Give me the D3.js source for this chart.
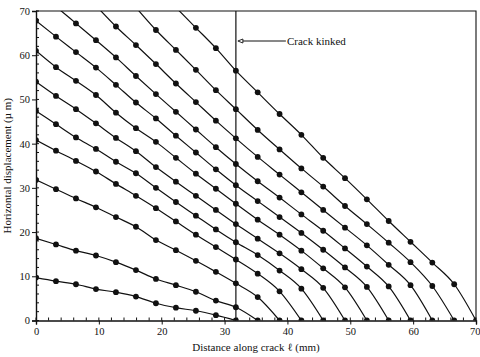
<!DOCTYPE html>
<html>
<head>
<meta charset="utf-8">
<script src="https://cdn.jsdelivr.net/npm/d3@7"></script>
<style>
  body { margin: 0; background: #fff; }
  svg { display: block; }
  text { font-family: "Liberation Serif", "DejaVu Serif", serif; fill: #111; }
</style>
</head>
<body>
<svg id="chart" width="480" height="357"></svg>
<script>
// Measurement stations along the crack path (mm); the crack kinks at 31.8 mm
const positions = [0, 3.18, 6.36, 9.54, 12.72, 15.9, 19.08, 22.26, 25.44, 28.62, 31.8,
                   35.27, 38.75, 42.22, 45.69, 49.16, 52.64, 56.11, 59.58, 63.05, 66.53, 70.0];
const kinkPosition = 31.8;

// Horizontal displacement (µm) at each station, one profile per crack-tip position
const profile01 = [9.7, 8.9, 8.2, 7.1, 6.4, 5.4, 3.9, 2.9, 2.2, 1.2, 0];
const profile02 = [18.6, 17.2, 15.8, 14.7, 13.2, 11.4, 9.4, 8.0, 6.5, 4.5, 3.0, 0];
const profile03 = [31.8, 29.7, 27.6, 25.6, 23.4, 21.2, 18.2, 15.9, 13.5, 11.0, 8.4, 5.3, 0];
const profile04 = [40.8, 38.4, 36.1, 33.7, 30.9, 28.2, 25.4, 22.4, 19.4, 16.6, 13.8, 10.6, 6.6, 0];
const profile05 = [47.4, 44.4, 41.4, 38.8, 35.9, 33.3, 30.0, 26.8, 23.7, 20.6, 17.7, 14.8, 11.3, 7.2, 0];
const profile06 = [54.0, 50.8, 47.8, 44.6, 41.3, 38.3, 34.7, 31.4, 28.2, 25.0, 21.8, 18.5, 15.2, 11.6, 7.4, 0];
const profile07 = [61.0, 57.3, 54.2, 51.0, 47.0, 43.5, 40.4, 36.8, 33.2, 29.8, 26.4, 22.8, 19.4, 15.8, 11.8, 7.5, 0];
const profile08 = [67.8, 64.2, 60.7, 57.2, 53.3, 49.3, 45.7, 41.8, 38.0, 34.2, 30.6, 27.0, 23.4, 19.8, 16.0, 12.0, 7.6, 0];
const profile09 = [null, 71.0, 67.2, 63.4, 59.5, 55.3, 51.2, 47.2, 43.2, 39.2, 35.4, 31.5, 27.8, 24.0, 20.3, 16.3, 12.2, 7.7, 0];
const profile10 = [null, null, null, 71.2, 66.5, 62.3, 58.0, 53.6, 49.4, 45.2, 41.2, 37.0, 33.0, 29.0, 25.0, 21.0, 17.0, 12.6, 8.0, 0];
const profile11 = [null, null, null, null, null, 70.8, 65.7, 61.2, 56.7, 52.1, 47.8, 43.1, 38.7, 34.4, 30.3, 25.9, 21.8, 17.6, 13.2, 7.8, 0];
const profile12 = [null, null, null, null, null, null, null, 70.8, 66.2, 61.6, 56.5, 51.6, 46.7, 42.0, 36.8, 32.2, 27.4, 22.5, 17.8, 13.1, 8.2, 0];

const profiles = [profile01, profile02, profile03, profile04, profile05, profile06,
                  profile07, profile08, profile09, profile10, profile11, profile12];

const xTicks = [0, 10, 20, 30, 40, 50, 60, 70];
const yTicks = [0, 10, 20, 30, 40, 50, 60, 70];
const xTitle = "Distance along crack \u2113 (mm)";
const yTitle = "Horizontal displacement (\u00b5 m)";
const kinkLabel = "Crack kinked";

const svg = d3.select("#chart");
const margin = { left: 36, right: 4, top: 11, bottom: 36.5 };
const W = 480, H = 357;

const x = d3.scaleLinear().domain([0, 70]).range([margin.left, W - margin.right]);
const y = d3.scaleLinear().domain([0, 70]).range([H - margin.bottom, margin.top]);

svg.append("defs").append("clipPath").attr("id", "plot-clip")
  .append("rect")
  .attr("x", x(0)).attr("y", y(70))
  .attr("width", x(70) - x(0)).attr("height", y(0) - y(70));

// Frame: top and right edges
svg.append("path")
  .attr("d", `M${x(0)},${y(70)}H${x(70)}V${y(0)}`)
  .attr("fill", "none").attr("stroke", "#111").attr("stroke-width", 1.1);

// Axes
const xAxis = svg.append("g").attr("transform", `translate(0,${y(0)})`)
  .call(d3.axisBottom(x).tickValues(xTicks).tickSize(4).tickPadding(3).tickFormat(d3.format("d")));
const yAxis = svg.append("g").attr("transform", `translate(${x(0)},0)`)
  .call(d3.axisLeft(y).tickValues(yTicks).tickSize(4).tickPadding(2).tickFormat(d3.format("d")));

// Minor ticks, pointing into the plot
xAxis.selectAll(".minor").data(d3.range(0, 70.01, 2)).enter().append("line")
  .attr("class", "minor").attr("x1", d => x(d)).attr("x2", d => x(d))
  .attr("y1", 0).attr("y2", -3).attr("stroke", "#111");
yAxis.selectAll(".minor").data(d3.range(0, 70.01, 2)).enter().append("line")
  .attr("class", "minor").attr("y1", d => y(d)).attr("y2", d => y(d))
  .attr("x1", 0).attr("x2", 3).attr("stroke", "#111");

[xAxis, yAxis].forEach(g => {
  g.select(".domain").attr("stroke", "#111").attr("stroke-width", 1.4);
  g.selectAll(".tick line").attr("stroke", "#111");
  g.selectAll(".tick text").attr("font-family", "Liberation Serif, serif")
    .attr("font-size", 10.5).attr("fill", "#111");
});
// Keep the last x label inside the page edge
xAxis.selectAll(".tick text").filter(d => d === 70).attr("text-anchor", "end").attr("dx", 4);

// Kink marker
svg.append("line")
  .attr("x1", x(kinkPosition)).attr("x2", x(kinkPosition))
  .attr("y1", y(70)).attr("y2", y(0))
  .attr("stroke", "#111").attr("stroke-width", 1.2);

// Profiles
const line = d3.line()
  .defined(d => d.v != null)
  .x(d => x(d.p)).y(d => y(d.v))
  .curve(d3.curveMonotoneX);

const plot = svg.append("g").attr("clip-path", "url(#plot-clip)");
profiles.forEach(vals => {
  const pts = vals.map((v, i) => ({ p: positions[i], v }));
  plot.append("path").datum(pts)
    .attr("d", line).attr("fill", "none")
    .attr("stroke", "#111").attr("stroke-width", 1.2);
  plot.selectAll(null).data(pts.filter(d => d.v != null && d.v <= 70)).enter()
    .append("circle")
    .attr("cx", d => x(d.p)).attr("cy", d => y(d.v)).attr("r", 2.9)
    .attr("fill", "#111");
});

// Annotation arrow
const ay = 41;
svg.append("line")
  .attr("x1", x(kinkPosition) + 6).attr("x2", x(kinkPosition) + 50)
  .attr("y1", ay).attr("y2", ay).attr("stroke", "#111").attr("stroke-width", 1);
svg.append("path")
  .attr("d", `M${x(kinkPosition) + 2},${ay}l5,-2v4z`)
  .attr("fill", "#fff").attr("stroke", "#111").attr("stroke-width", 0.9);
svg.append("text")
  .attr("x", x(kinkPosition) + 51).attr("y", ay + 3.5)
  .attr("font-size", 11).text(kinkLabel);

// Axis titles
svg.append("text")
  .attr("x", (x(0) + x(70)) / 2).attr("y", 351)
  .attr("text-anchor", "middle").attr("font-size", 11).text(xTitle);
svg.append("text")
  .attr("transform", `translate(11,${(y(0) + y(70)) / 2}) rotate(-90)`)
  .attr("text-anchor", "middle").attr("font-size", 11).text(yTitle);
</script>
</body>
</html>
